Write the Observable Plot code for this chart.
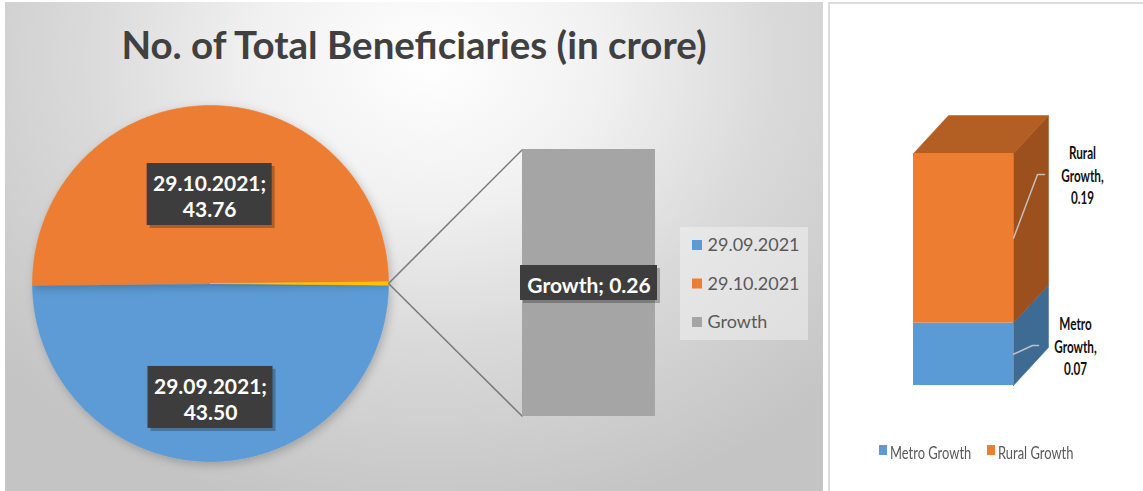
<!DOCTYPE html>
<html><head><meta charset="utf-8">
<script src="https://cdn.jsdelivr.net/npm/d3@7"></script>
<script src="https://cdn.jsdelivr.net/npm/@observablehq/plot@0.6"></script>
<style>
html,body{margin:0;padding:0;background:#fff;}
#root{position:relative;width:1143px;height:491px;overflow:hidden;background:#fff;}
#left{position:absolute;left:5px;top:2px;width:818px;height:489px;
  background:radial-gradient(ellipse 70% 95% at 52% 12%, #ffffff 0%, #f1f1f1 30%, #dadada 60%, #c4c4c4 100%);}
#right{position:absolute;left:828px;top:2px;width:315px;height:489px;background:#fff;border-left:2px solid #dcdcdc;border-top:2px solid #dcdcdc;box-sizing:border-box;}
#title{position:absolute;left:0;width:828px;top:21px;text-align:center;font-family:Lato,"Open Sans",sans-serif;font-weight:bold;font-size:38.5px;color:#404040;white-space:nowrap;}
.layer{position:absolute;top:0;}
.rl{position:absolute;top:442px;font-family:Lato,sans-serif;font-size:17px;color:#595959;white-space:nowrap;transform-origin:0 50%;}
.sw{position:absolute;top:445px;width:8px;height:10px;}
</style>
</head><body>
<div id="root">
  <div id="left"></div>
  <div id="right"></div>
  <div id="title">No. of Total Beneficiaries (in crore)</div>
</div>
<script>
// ---------- data ----------
const pieCategories = ["29.09.2021", "29.10.2021", "Growth"];
const pieValues = [43.50, 43.76, 0.26];
const barCategories = ["Growth"];
const barValues = [0.26];
const splitCategories = ["Metro Growth", "Rural Growth"];
const splitValues = [0.07, 0.19];

// ---------- styles ----------
const sliceColors = ["#5b9bd5", "#ed7d31", "#ffc000"];
const legendColors = ["#5b9bd5", "#ed7d31", "#a5a5a5"];
const frontColors = ["#5b9bd5", "#ed7d31"];
const sideColors = ["#3e6b93", "#9b501e"];
const topColor = "#b35e22";
const root = document.getElementById("root");

// ---------- left chart ----------
const L = {cx: 210, cy: 283, r: 178, barX1: 522, barX2: 655, barTop: 149, barBottom: 416};
const total = d3.sum(pieValues);
const gAng = pieValues[2] / total * 2 * Math.PI;
const startA = Math.PI / 2 + gAng / 2;
const arcs = d3.pie().sort(null).startAngle(startA).endAngle(startA + 2 * Math.PI)(pieValues);
const pt = (a, rr) => ({x: L.cx + rr * Math.sin(a), y: L.cy - rr * Math.cos(a)});

const slicePts = [];
arcs.forEach((a, i) => {
  const n = Math.max(2, Math.ceil((a.endAngle - a.startAngle) / 0.01));
  slicePts.push({s: i, x: L.cx, y: L.cy});
  for (let k = 0; k <= n; k++) slicePts.push({s: i, ...pt(a.startAngle + (a.endAngle - a.startAngle) * k / n, L.r)});
  slicePts.push({s: i, x: L.cx, y: L.cy});
});
const sliceMarks = arcs.map((a, i) =>
  Plot.line(slicePts.filter(d => d.s === i), {x: "x", y: "y", fill: sliceColors[i], stroke: sliceColors[i], strokeWidth: 0.6}));

const barY = d3.scaleLinear([0, barValues[0]], [L.barBottom, L.barTop]);
const gMid = (arcs[2].startAngle + arcs[2].endAngle) / 2;
const gEdge = pt(gMid, L.r);
const connectors = [
  {x1: gEdge.x, y1: gEdge.y, x2: L.barX1, y2: barY(barValues[0])},
  {x1: gEdge.x, y1: gEdge.y, x2: L.barX1, y2: barY(0)}
];

const labelRadius = [0.64, 0.5];
const pieLabels = [0, 1].map(i => {
  const a = (arcs[i].startAngle + arcs[i].endAngle) / 2;
  const p = pt(a, L.r * labelRadius[i]);
  return {x: p.x, y: p.y, w: 125, h: 62, text: `${pieCategories[i]};\n${pieValues[i].toFixed(2)}`};
});
const barLabel = {x: (L.barX1 + L.barX2) / 2, y: barY(barValues[0] / 2), w: 137, h: 35,
  text: `${barCategories[0]}; ${barValues[0].toFixed(2)}`};
const boxes = [...pieLabels, barLabel];

const legendItems = pieCategories.map((c, i) => ({c, i, y: 245 + i * 38.5}));
const font = "Lato, 'Open Sans', sans-serif";

const left = Plot.plot({
  width: 823, height: 491, margin: 0,
  x: {domain: [0, 823], range: [0, 823], axis: null},
  y: {domain: [0, 491], range: [0, 491], axis: null},
  style: {background: "transparent", overflow: "visible"},
  marks: [
    ...sliceMarks,
    Plot.link(connectors, {x1: "x1", y1: "y1", x2: "x2", y2: "y2", stroke: "#7a7a7a", strokeWidth: 1.5}),
    Plot.rect(barValues, {x1: () => L.barX1, x2: () => L.barX2, y1: () => barY(0), y2: d => barY(d), fill: "#a5a5a5"}),
    Plot.rect(boxes, {x1: d => d.x - d.w / 2 + 3, x2: d => d.x + d.w / 2 + 3, y1: d => d.y - d.h / 2 + 3, y2: d => d.y + d.h / 2 + 3, fill: "#000", fillOpacity: 0.25}),
    Plot.rect(boxes, {x1: d => d.x - d.w / 2, x2: d => d.x + d.w / 2, y1: d => d.y - d.h / 2, y2: d => d.y + d.h / 2, fill: "#3d3d3d"}),
    Plot.text(boxes, {x: "x", y: d => d.y + 1, text: "text", fill: "white", fontWeight: "bold", fontSize: 21, fontFamily: font, lineHeight: 1.27}),
    Plot.rect([0], {x1: () => 680, x2: () => 808, y1: () => 227, y2: () => 340, fill: "#f4f4f4", fillOpacity: 0.5}),
    Plot.rect(legendItems, {x1: () => 692, x2: () => 702, y1: d => d.y - 5, y2: d => d.y + 5, fill: d => legendColors[d.i]}),
    Plot.text(legendItems, {x: () => 707, y: "y", text: "c", textAnchor: "start", fill: "#595959", fontSize: 18, fontFamily: font})
  ]
});
left.classList.add("layer");
left.style.left = "0px";
root.appendChild(left);
{
  const svg = d3.select(left);
  const defs = svg.insert("defs", ":first-child");
  defs.append("filter").attr("id", "pieShadow").attr("x", "-20%").attr("y", "-20%").attr("width", "140%").attr("height", "140%")
    .append("feDropShadow").attr("dx", 2).attr("dy", 3).attr("stdDeviation", 5).attr("flood-color", "#000").attr("flood-opacity", 0.22);
  svg.selectAll('g[aria-label="line"]').attr("filter", "url(#pieShadow)");
}

// ---------- right chart (3D stacked column) ----------
const totalSplit = d3.sum(splitValues);
const R = {xFront: [85, 185], yPx: [385, 153], depthX: 35, depthY: 38};
const yPerPx = totalSplit / (R.yPx[0] - R.yPx[1]);
const dX = R.depthX / (R.xFront[1] - R.xFront[0]);
const dY = R.depthY * yPerPx;
let acc = 0;
const segs = splitValues.map((v, i) => ({cat: splitCategories[i], v, i, y1: acc, y2: (acc += v)}));

const faceMarks = [];
segs.forEach(s => {
  faceMarks.push(Plot.line([{x: 1, y: s.y1}, {x: 1 + dX, y: s.y1 + dY}, {x: 1 + dX, y: s.y2 + dY}, {x: 1, y: s.y2}, {x: 1, y: s.y1}],
    {x: "x", y: "y", fill: sideColors[s.i], stroke: sideColors[s.i], strokeWidth: 0.5}));
});
faceMarks.push(Plot.line([{x: 0, y: totalSplit}, {x: dX, y: totalSplit + dY}, {x: 1 + dX, y: totalSplit + dY}, {x: 1, y: totalSplit}, {x: 0, y: totalSplit}],
  {x: "x", y: "y", fill: topColor, stroke: topColor, strokeWidth: 0.5}));

const pxToY = p => (R.yPx[0] - p) * yPerPx;
const labelLayout = [
  {bend: 1.19, end: 1.25, lx: 1.62, ly: 345},
  {bend: 1.24, end: 1.31, lx: 1.69, ly: 174}
];
const leaders = [];
segs.forEach(s => {
  const q = labelLayout[s.i];
  const mid = (s.y1 + s.y2) / 2;
  leaders.push({s: s.i, x: 1, y: mid}, {s: s.i, x: q.bend, y: pxToY(q.ly)}, {s: s.i, x: q.end, y: pxToY(q.ly)});
});
const rLabels = segs.map(s => ({x: labelLayout[s.i].lx, y: pxToY(labelLayout[s.i].ly),
  text: `${s.cat.split(" ").join("\n")},\n${s.v.toFixed(2)}`}));

const right = Plot.plot({
  width: 315, height: 491, margin: 0,
  x: {type: "linear", domain: [0, 1], range: R.xFront, axis: null},
  y: {type: "linear", domain: [0, totalSplit], range: R.yPx, axis: null},
  style: {background: "transparent", overflow: "visible"},
  marks: [
    ...faceMarks,
    Plot.rect(segs, {x1: () => 0, x2: () => 1, y1: "y1", y2: "y2", fill: d => frontColors[d.i]}),
    Plot.line(leaders, {x: "x", y: "y", z: "s", stroke: "#c0c0c0", strokeWidth: 1.5}),
    Plot.text(rLabels, {x: "x", y: "y", text: "text", fill: "#111", fontWeight: "bold", fontSize: 17, fontFamily: font, lineHeight: 1.3})
  ]
});
right.classList.add("layer");
right.style.left = "828px";
root.appendChild(right);
d3.select(right).selectAll('g[aria-label="text"] text').each(function () {
  const t = this.getAttribute("transform") || "";
  this.setAttribute("transform", t + " scale(0.69,1)");
});

const legendX = [879, 987];
splitCategories.forEach((c, i) => {
  const sw = document.createElement("div");
  sw.className = "sw"; sw.style.left = legendX[i] + "px"; sw.style.background = frontColors[i];
  root.appendChild(sw);
  const t = document.createElement("div");
  t.className = "rl"; t.textContent = c; t.style.left = (legendX[i] + 11) + "px";
  t.style.transform = "scaleX(0.76)";
  root.appendChild(t);
});
root.appendChild(document.getElementById("title"));
</script>
</body></html>
